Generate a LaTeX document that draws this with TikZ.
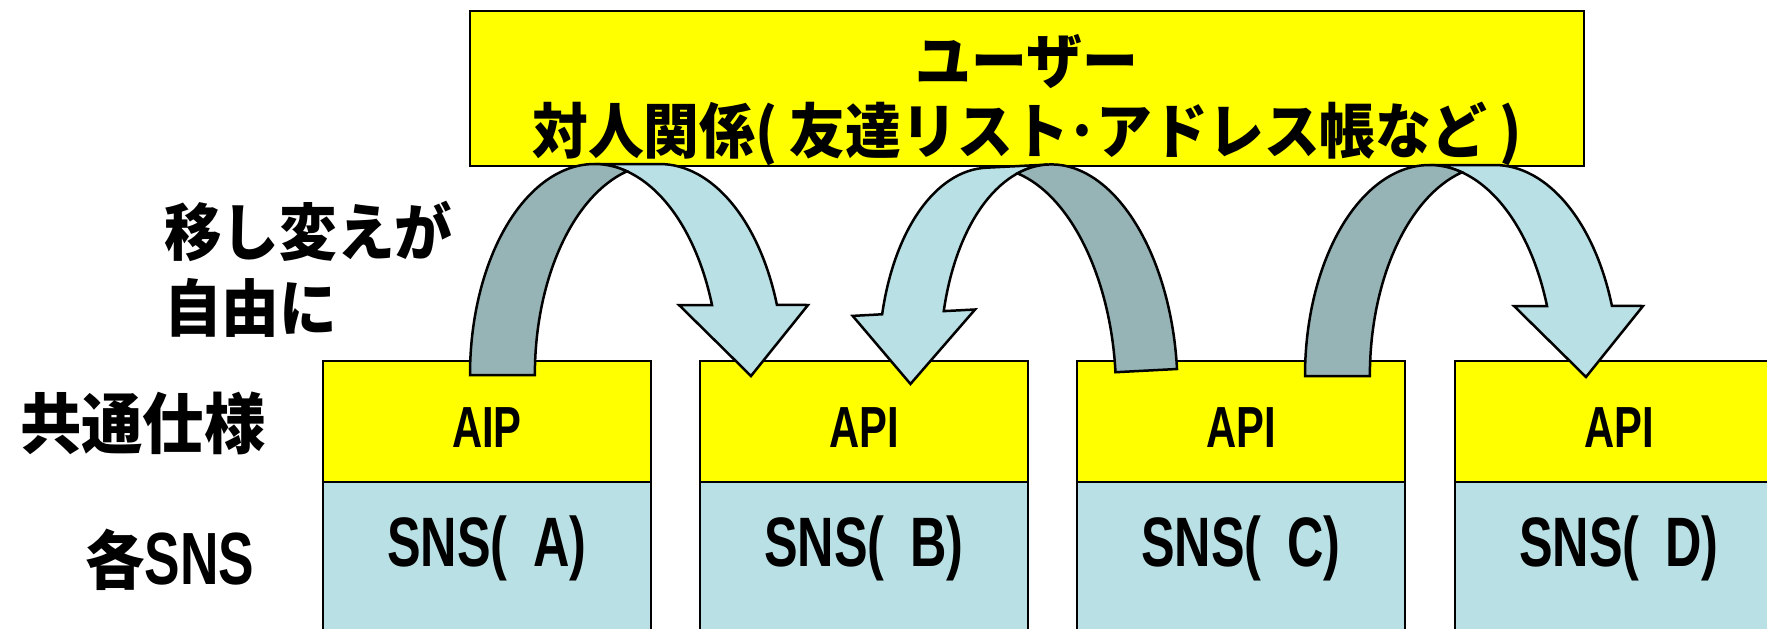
\documentclass[tikz,border=0pt]{standalone}
\usepackage{fontspec}
\usepackage{tikz}
\usetikzlibrary{positioning}
\newfontfamily\jpfont{Noto Sans CJK JP}[FakeStretch=0.93]
\newfontfamily\narrowfont{Liberation Sans}[FakeStretch=0.72]
\definecolor{snsyellow}{RGB}{255,255,0}
\definecolor{snsblue}{RGB}{185,224,228}
\definecolor{arrowdark}{RGB}{150,180,182}
\tikzstyle{userbox}=[draw,fill=snsyellow,line width=2.5pt,outer sep=0pt,inner sep=0pt,minimum width=1114pt,minimum height=151pt,align=center,font=\jpfont\bfseries\fontsize{60}{70}\selectfont]
\tikzstyle{apibox}=[draw,fill=snsyellow,line width=2.5pt,outer sep=0pt,inner sep=0pt,minimum width=328pt,text height=86pt,text depth=35pt,font=\narrowfont\bfseries\fontsize{58}{58}\selectfont]
\tikzstyle{snsbox}=[draw,fill=snsblue,line width=2.5pt,outer sep=0pt,inner sep=0pt,minimum width=328pt,text height=84pt,text depth=146pt,font=\narrowfont\bfseries\fontsize{70}{70}\selectfont]
\tikzstyle{sidelabel}=[inner sep=0pt,align=left,font=\jpfont\bfseries\fontsize{62}{76}\selectfont]
\tikzset{
  sharearrow/.pic={
    \filldraw[fill=snsblue,line width=2.5pt] (281,1) -- (209,-70) -- (242,-70)
      arc[start angle=340.6,end angle=270,x radius=124.5,y radius=211]
      -- (189.5,-211)
      arc[start angle=270,end angle=340.6,x radius=124.5,y radius=211]
      -- (338,-70) -- cycle;
    \filldraw[fill=arrowdark,line width=2.5pt] (0,0)
      arc[start angle=180,end angle=285.1,x radius=124.5,y radius=211]
      arc[start angle=254.9,end angle=180,x radius=124.5,y radius=211]
      -- cycle;
  }
}

\begin{document}
\begin{tikzpicture}[x=1pt,y=-1pt]
  \useasboundingbox (0,0) rectangle (1767,629);
  \clip (0,0) rectangle (1767,629);

  \node [userbox] (user) at (1027,88.5) {\rule{0pt}{73pt}ユーザー\\対人関係(\hspace{12pt}友達リスト･アドレス帳など\hspace{12pt})};

  \node [apibox,anchor=north west] (apiA) at (323,361) {AIP};
  \node [apibox,right=49pt of apiA] (apiB) {API};
  \node [apibox,right=49pt of apiB] (apiC) {API};
  \node [apibox,right=50pt of apiC] (apiD) {API};

  \node [snsbox,below=0pt of apiA] (snsA) {SNS(\hspace{26pt}A)};
  \node [snsbox,below=0pt of apiB] (snsB) {SNS(\hspace{26pt}B)};
  \node [snsbox,below=0pt of apiC] (snsC) {SNS(\hspace{26pt}C)};
  \node [snsbox,below=0pt of apiD] (snsD) {SNS(\hspace{26pt}D)};

  \node [sidelabel,anchor=north west] (move) at (164,201) {移し変えが\\自由に};
  \node [sidelabel,font=\jpfont\bfseries\fontsize{66}{66}\selectfont] (spec) at (143,423) {共通仕様};
  \node [sidelabel,font=\jpfont\bfseries\fontsize{64}{64}\selectfont] (each) at (170,560) {各{\narrowfont\fontsize{74}{74}\selectfont SNS}};

  \pic at (470,375) {sharearrow};
  \pic [rotate=3,xscale=-0.95] at (1177,369) {sharearrow};
  \pic at (1305,376) {sharearrow};
\end{tikzpicture}
\end{document}
